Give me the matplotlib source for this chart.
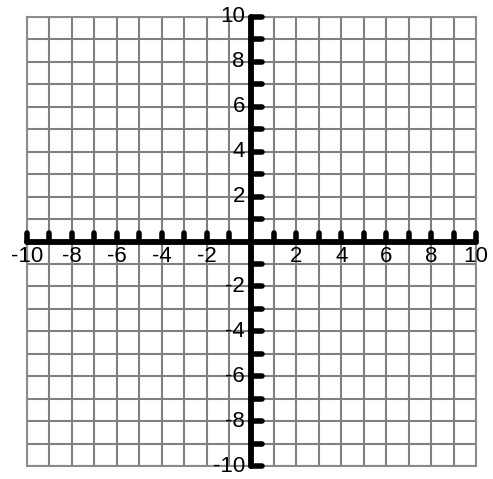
import matplotlib
matplotlib.use("Agg")
import matplotlib.pyplot as plt

plt.rcParams['font.family'] = ['Liberation Sans', 'DejaVu Sans']

# grid goes from -10 to 10 in steps of 1
grid_values = list(range(-10, 11))
tick_values = [v for v in grid_values if v != 0]
label_values = [-10, -8, -6, -4, -2, 2, 4, 6, 8, 10]
x_labels = [str(v) for v in label_values]
y_labels = [str(v) for v in label_values]

fig = plt.figure(figsize=(4.93, 4.79), dpi=100)
ax = fig.add_axes([27 / 493, 13 / 479, 449 / 493, 449 / 479])
ax.set_xlim(-10, 10)
ax.set_ylim(-10, 10)

# gray grid
ax.set_xticks(grid_values)
ax.set_yticks(grid_values)
ax.grid(True, color='#808080', linewidth=1.5)
ax.tick_params(length=0, labelbottom=False, labelleft=False)
for s in ax.spines.values():
    s.set_color('#8c8c8c')
    s.set_linewidth(1.5)

# thick axes
ax.plot([-10, 10], [0, 0], color='black', lw=4.2, solid_capstyle='round', zorder=5, clip_on=False)
ax.plot([0, 0], [-10, 10], color='black', lw=4.2, solid_capstyle='round', zorder=5, clip_on=False)

# little tick stubs, pointing up on x axis and right on y axis
ax.vlines(tick_values, 0, 0.4, colors='black', lw=4, capstyle='round', zorder=5, clip_on=False)
ax.hlines(tick_values, 0, 0.45, colors='black', lw=4, capstyle='round', zorder=5, clip_on=False)

for v, t in zip(label_values, x_labels):
    ax.text(v, -0.2, t, ha='center', va='top', fontsize=16, zorder=6)
for v, t in zip(label_values, y_labels):
    ax.text(-0.3, v, t, ha='right', va='center', fontsize=16, zorder=6)

fig.savefig('out.png', dpi=100)
